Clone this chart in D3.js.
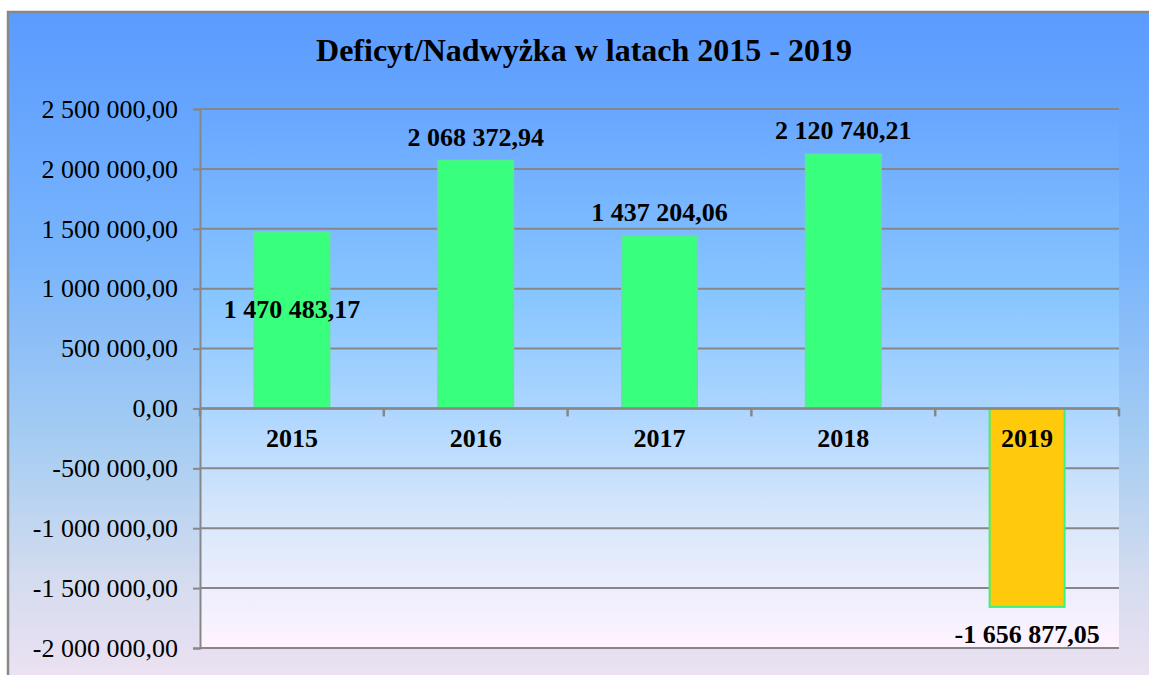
<!DOCTYPE html>
<html><head><meta charset="utf-8">
<script src="https://cdn.jsdelivr.net/npm/d3@7"></script>
<style>body{margin:0;background:#fff}svg{display:block}</style>
</head><body>
<script>
const categories = ["2015","2016","2017","2018","2019"];
const values = [1470483.17, 2068372.94, 1437204.06, 2120740.21, -1656877.05];
const labels = ["1 470 483,17","2 068 372,94","1 437 204,06","2 120 740,21","-1 656 877,05"];
const yTicks = [2500000,2000000,1500000,1000000,500000,0,-500000,-1000000,-1500000,-2000000];
const title = "Deficyt/Nadwyżka w latach 2015 - 2019";

(function(){
const W = 1149, H = 675;
const svg = d3.select("body").append("svg").attr("width", W).attr("height", H);
const defs = svg.append("defs");
const g1 = defs.append("linearGradient").attr("id","bgGrad").attr("x1",0).attr("y1",0).attr("x2",0).attr("y2",1);
g1.append("stop").attr("offset","0%").attr("stop-color","#5a9bff");
g1.append("stop").attr("offset","35%").attr("stop-color","#78b4fc");
g1.append("stop").attr("offset","62%").attr("stop-color","#a6cdf2");
g1.append("stop").attr("offset","82%").attr("stop-color","#d5dcef");
g1.append("stop").attr("offset","100%").attr("stop-color","#f3e3f3");
const g2 = defs.append("linearGradient").attr("id","plotGrad").attr("x1",0).attr("y1",0).attr("x2",0).attr("y2",1);
g2.append("stop").attr("offset","0%").attr("stop-color","#68a6ff");
g2.append("stop").attr("offset","35%").attr("stop-color","#88c6ff");
g2.append("stop").attr("offset","55%").attr("stop-color","#abd5ff");
g2.append("stop").attr("offset","75%").attr("stop-color","#d6e6fb");
g2.append("stop").attr("offset","100%").attr("stop-color","#fff4ff");

svg.append("rect").attr("x",8).attr("y",12).attr("width",W+20).attr("height",H+20)
  .attr("fill","url(#bgGrad)").attr("stroke","#888").attr("stroke-width",2.5);

const pl = 200, pr = 1119, pt = 109, pb = 648;
svg.append("rect").attr("x",pl).attr("y",pt).attr("width",pr-pl).attr("height",pb-pt)
  .attr("fill","url(#plotGrad)");

const x = d3.scaleBand().domain(categories).range([pl,pr]).paddingInner(0.592).paddingOuter(0.296);
const y = d3.scaleLinear().domain([-2000000,2500000]).range([pb,pt]);

svg.append("g").selectAll("line").data(yTicks).join("line")
  .attr("x1",pl).attr("x2",pr).attr("y1",d=>y(d)).attr("y2",d=>y(d))
  .attr("stroke","#878787").attr("stroke-width",2);

const fmt = v => d3.format(",.2f")(v).replace(/,/g," ").replace(".",",").replace("−","-");
const serif = "'Liberation Serif','Times New Roman',serif";
const yAxis = d3.axisLeft(y).tickValues(yTicks).tickSize(7).tickPadding(15).tickFormat(fmt);
const ya = svg.append("g").attr("transform",`translate(${pl},0)`).call(yAxis);
ya.select(".domain").attr("stroke","#878787").attr("stroke-width",2);
ya.selectAll(".tick line").attr("stroke","#878787").attr("stroke-width",2);
ya.selectAll(".tick text").attr("font-family",serif).attr("font-size",26).attr("fill","#000");

const bars = categories.map((c,i)=>({c, v: values[i], l: labels[i], i}));
svg.append("g").selectAll("rect").data(bars).join("rect")
  .attr("x",d=>x(d.c)).attr("width",x.bandwidth())
  .attr("y",d=>y(Math.max(0,d.v))).attr("height",d=>Math.abs(y(d.v)-y(0)))
  .attr("fill",d=>d.v>=0?"#38ff7c":"#ffca0c")
  .attr("stroke",d=>d.v>=0?"#4ef08c":"#3fef80").attr("stroke-width",2);

const xBounds = d3.range(categories.length+1).map(i=>pl + i*x.step());
svg.append("line").attr("x1",pl).attr("x2",pr).attr("y1",y(0)).attr("y2",y(0))
  .attr("stroke","#878787").attr("stroke-width",2.5);
svg.append("g").selectAll("line").data(xBounds).join("line")
  .attr("x1",d=>d).attr("x2",d=>d).attr("y1",y(0)).attr("y2",y(0)+8)
  .attr("stroke","#878787").attr("stroke-width",2.5);

svg.append("g").selectAll("text").data(categories).join("text")
  .attr("x",d=>x(d)+x.bandwidth()/2).attr("y",y(0)+39)
  .attr("text-anchor","middle").attr("font-family",serif).attr("font-weight","bold")
  .attr("font-size",26).attr("fill","#000").text(d=>d);

svg.append("g").selectAll("text").data(bars).join("text")
  .attr("x",d=>x(d.c)+x.bandwidth()/2)
  .attr("y",d=>{
    if (d.v < 0) return y(d.v)+36;
    if (d.i === 0) return y(d.v)+86;
    return y(d.v)-15;
  })
  .attr("text-anchor","middle").attr("font-family",serif).attr("font-weight","bold")
  .attr("font-size",26).attr("fill","#000").text(d=>d.l);

svg.append("text").attr("x",584).attr("y",61).attr("text-anchor","middle")
  .attr("font-family",serif).attr("font-weight","bold").attr("font-size",32)
  .attr("fill","#000").text(title);
})();
</script>
</body></html>
